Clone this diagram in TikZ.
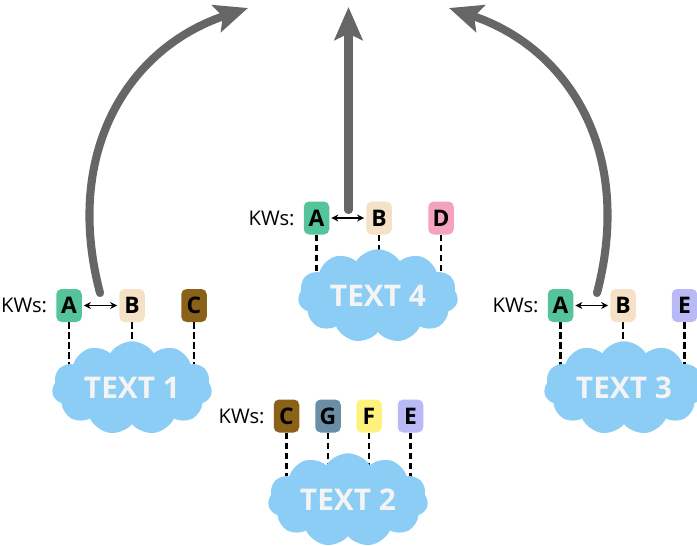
\documentclass[tikz,border=0pt]{standalone}
\usepackage{fontspec}
\setmainfont{Open Sans}
\usetikzlibrary{arrows.meta,shapes.symbols,positioning}

\definecolor{kwA}{HTML}{55C49A}
\definecolor{kwB}{HTML}{F5E1C6}
\definecolor{kwC}{HTML}{8B6118}
\definecolor{kwD}{HTML}{F4A2C0}
\definecolor{kwE}{HTML}{B9B9F5}
\definecolor{kwF}{HTML}{FFF27C}
\definecolor{kwG}{HTML}{6A8EA6}
\definecolor{cloudblue}{HTML}{8BCDF4}
\definecolor{cloudtext}{HTML}{F4F4F4}
\definecolor{arrowgray}{HTML}{666666}

\pgfdeclarelayer{background}
\pgfsetlayers{background,main}

\tikzset{
  kwbox/.style={rounded corners=3pt, minimum width=0.51cm, minimum height=0.66cm,
    inner sep=0pt, font=\bfseries\fontsize{13}{15}\selectfont},
  kwlabel/.style={inner sep=0pt, font=\fontsize{11.5}{13}\selectfont},
  textcloud/.style={cloud, cloud puffs=11, cloud puff arc=115, aspect=1.8,
    fill=cloudblue, minimum width=3.2cm, minimum height=1.8cm, inner sep=0pt,
    text=cloudtext, font=\bfseries\fontsize{17}{20}\selectfont},
  kwlink/.style={black, line width=1.4pt, dash pattern=on 3.5pt off 2.2pt},
  pairlink/.style={{Stealth[length=4pt,width=4pt]}-{Stealth[length=4pt,width=4pt]},
    line width=0.7pt},
  bigarrow/.style={draw=arrowgray, line width=4.6pt, line cap=round,
    -{Stealth[length=0.66cm,width=0.56cm,inset=0.13cm]}}
}

\begin{document}
\begin{tikzpicture}
\useasboundingbox (0,0) rectangle (13.94,10.9);
\clip (0,0) rectangle (13.94,10.9);

% text clouds
\node[textcloud] (t1) at (2.64,3.14) {TEXT 1};
\node[textcloud] (t4) at (7.56,4.98) {TEXT 4};
\node[textcloud] (t3) at (12.48,3.14) {TEXT 3};
\node[textcloud] (t2) at (6.96,0.9) {TEXT 2};

% keywords of text 1
\node[kwbox, fill=kwA] (a1) at (1.38,4.79) {A};
\node[kwbox, fill=kwB] (b1) at (2.64,4.79) {B};
\node[kwbox, fill=kwC] (c1) at (3.88,4.79) {C};
\node[kwlabel, left=0.17cm of a1] (kw1) {KWs:};

% keywords of text 4
\node[kwbox, fill=kwA] (a4) at (6.33,6.54) {A};
\node[kwbox, fill=kwB] (b4) at (7.58,6.54) {B};
\node[kwbox, fill=kwD] (d4) at (8.82,6.54) {D};
\node[kwlabel, left=0.17cm of a4] (kw4) {KWs:};

% keywords of text 3
\node[kwbox, fill=kwA] (a3) at (11.21,4.79) {A};
\node[kwbox, fill=kwB] (b3) at (12.46,4.79) {B};
\node[kwbox, fill=kwE] (e3) at (13.69,4.79) {E};
\node[kwlabel, left=0.17cm of a3] (kw3) {KWs:};

% keywords of text 2
\node[kwbox, fill=kwC] (c2) at (5.73,2.58) {C};
\node[kwbox, fill=kwG] (g2) at (6.56,2.58) {G};
\node[kwbox, fill=kwF] (f2) at (7.38,2.58) {F};
\node[kwbox, fill=kwE] (e2) at (8.21,2.58) {E};
\node[kwlabel, left=0.17cm of c2] (kw2) {KWs:};

% dashed links, kept behind the clouds
\begin{pgfonlayer}{background}
\draw[kwlink] (a1.south) -- (a1.south |- t1.center);
\draw[kwlink] (b1.south) -- (b1.south |- t1.center);
\draw[kwlink] (c1.south) -- (c1.south |- t1.center);
\draw[kwlink] (a4.south) -- (a4.south |- t4.center);
\draw[kwlink] (b4.south) -- (b4.south |- t4.center);
\draw[kwlink] (d4.south) -- (d4.south |- t4.center);
\draw[kwlink] (a3.south) -- (a3.south |- t3.center);
\draw[kwlink] (b3.south) -- (b3.south |- t3.center);
\draw[kwlink] (e3.south) -- (e3.south |- t3.center);
\draw[kwlink] (c2.south) -- (c2.south |- t2.center);
\draw[kwlink] (g2.south) -- (g2.south |- t2.center);
\draw[kwlink] (f2.south) -- (f2.south |- t2.center);
\draw[kwlink] (e2.south) -- (e2.south |- t2.center);
\end{pgfonlayer}

% A <-> B pairs
\draw[pairlink] ([xshift=1pt]a1.east) -- ([xshift=-1pt]b1.west);
\draw[pairlink] ([xshift=1pt]a4.east) -- ([xshift=-1pt]b4.west);
\draw[pairlink] ([xshift=1pt]a3.east) -- ([xshift=-1pt]b3.west);

% big arrows going up
\coordinate (s1) at (2.0,5.04);
\coordinate (s4) at (6.97,6.7);
\coordinate (s3) at (11.94,5.04);
\coordinate (e1) at (4.96,10.74);
\coordinate (e4) at (6.97,10.76);
\coordinate (e3) at (8.98,10.74);
\draw[bigarrow] (s1) .. controls (1.25,7.9) and (2.6,9.95) .. (e1);
\draw[bigarrow] (s4) -- (e4);
\draw[bigarrow] (s3) .. controls (12.69,7.9) and (11.34,9.95) .. (e3);
\end{tikzpicture}
\end{document}
